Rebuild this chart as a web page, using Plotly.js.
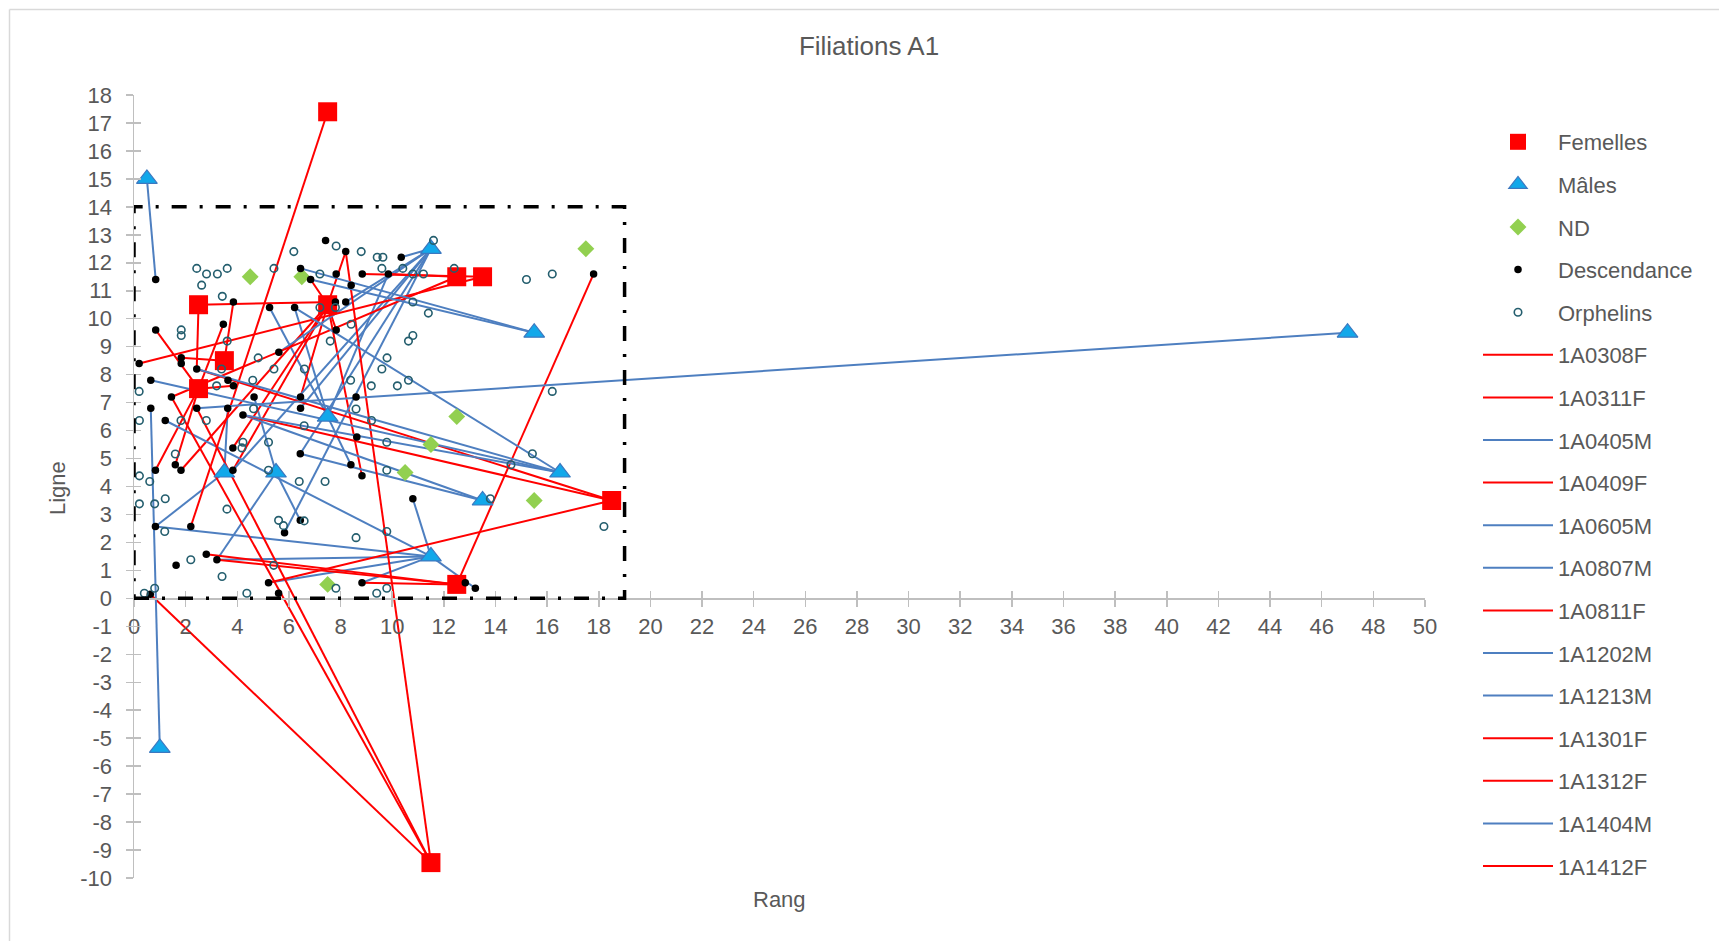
<!DOCTYPE html>
<html>
<head>
<meta charset="utf-8">
<script src="https://cdn.plot.ly/plotly-3.0.1.min.js"></script>
<style>html,body{margin:0;padding:0;background:#fff;}#chart{width:1719px;height:941px;}</style>
</head>
<body>
<div id="chart"></div>
<script>
// ---------- Parents (Femelles / Mâles), ND, descendants, orphans ----------
const femX = [7.5, 2.5, 7.5, 3.5, 2.5, 12.5, 13.5, 18.5, 12.5, 11.5];
const femY = [17.4, 10.5, 10.5, 8.5, 7.5, 11.5, 11.5, 3.5, 0.5, -9.45];

const maleX = [0.5, 1, 15.5, 16.5, 13.5, 3.5, 5.5, 7.5, 11.5, 11.5, 47];
const maleY = [15, -5.35, 9.5, 4.5, 3.5, 4.5, 4.5, 6.5, 1.5, 12.5, 9.5];

const ndX = [4.5, 6.5, 17.5, 12.5, 11.5, 10.5, 15.5, 7.5];
const ndY = [11.5, 11.5, 12.5, 6.5, 5.5, 4.5, 3.5, 0.5];

const descX = [0.84, 7.42, 8.2, 6.45, 6.84, 7.83, 8.84, 9.85, 8.41, 8.2, 7.8, 3.85, 5.25, 6.22, 7.83,
  3.46, 0.84, 5.61, 0.2, 1.83, 1.83, 2.43, 3.64, 3.85, 0.65, 1.45, 4.65, 6.45, 8.6, 0.65,
  2.43, 3.63, 6.45, 10.35, 4.22, 1.21, 8.63, 3.83, 6.44, 1.6, 1.82, 0.83, 3.83, 8.4, 8.83,
  0.83, 2.2, 6.44, 5.83, 2.8, 3.21, 1.63, 5.21, 8.83, 0.63, 5.6, 17.8, 10.8, 12.83, 13.22];
const descY = [11.4, 12.8, 12.4, 11.8, 11.4, 11.6, 11.6, 11.6, 11.2, 10.6, 10.6, 10.6, 10.4, 10.4, 9.6,
  9.8, 9.6, 8.8, 8.4, 8.6, 8.4, 8.2, 7.8, 7.6, 7.8, 7.2, 7.2, 7.2, 7.2, 6.8,
  6.8, 6.8, 6.8, 12.2, 6.56, 6.36, 5.77, 5.38, 5.17, 4.78, 4.58, 4.58, 4.58, 4.78, 4.38,
  2.57, 2.57, 2.79, 2.35, 1.58, 1.38, 1.18, 0.56, 0.56, 0.15, 0.18, 11.6, 3.56, 0.56, 0.36];

const orphX = [2.43, 2.81, 3.23, 3.61, 2.62, 3.42, 5.42, 6.19, 7.83, 8.8, 9.42, 9.64, 9.6, 7.2, 7.2,
  7.8, 8.41, 7.6, 1.83, 1.83, 3.61, 4.81, 5.42, 6.6, 3.39, 3.2, 4.6, 8.39, 9.19, 10.2,
  9.8, 9.6, 0.2, 11.6, 10.41, 10.8, 11.21, 10.8, 11.4, 12.4, 15.2, 16.2, 10.8, 10.63, 10.63,
  16.2, 4.63, 0.21, 1.82, 2.8, 6.59, 8.6, 9.2, 9.79, 5.21, 4.22, 4.18, 1.6, 5.21, 6.4,
  7.4, 9.79, 0.21, 0.61, 0.21, 0.8, 1.21, 3.6, 1.19, 5.6, 5.79, 6.59, 8.6, 9.79, 2.2,
  3.41, 5.41, 7.82, 9.79, 9.4, 0.4, 0.8, 4.37, 15.43, 14.6, 13.8, 18.2];
const orphY = [11.8, 11.6, 11.6, 11.8, 11.2, 10.8, 11.8, 12.4, 12.6, 12.4, 12.2, 12.2, 11.8, 11.6, 10.4,
  10.4, 9.8, 9.2, 9.6, 9.4, 9.2, 8.6, 8.2, 8.2, 8.2, 7.6, 7.8, 7.8, 7.6, 7.6,
  8.6, 8.2, 7.4, 12.8, 11.8, 11.6, 11.6, 10.6, 10.2, 11.8, 11.4, 11.6, 9.4, 9.2, 7.8,
  7.4, 6.78, 6.36, 6.36, 6.36, 6.17, 6.77, 6.36, 5.58, 5.58, 5.58, 5.38, 5.16, 4.58, 4.18,
  4.18, 4.58, 4.38, 4.18, 3.38, 3.38, 3.56, 3.19, 2.39, 2.79, 2.6, 2.77, 2.17, 2.39, 1.38,
  0.78, 1.18, 0.36, 0.36, 0.18, 0.18, 0.36, 0.18, 5.17, 4.78, 3.56, 2.57];

// ---------- Filiation lines: first value = parent, following = descendants ----------
const f0308X = [2.5, 0.84, 3.46, 0.83, 1.6, 3.85];
const f0308Y = [7.5, 9.6, 9.8, 4.58, 4.78, 7.6];
const f0311X = [2.5, 7.8, 2.43];
const f0311Y = [10.5, 10.6, 8.2];
const m0405X = [3.5, 3.63, 0.83];
const m0405Y = [4.5, 6.8, 2.57];
const f0409X = [3.5, 1.83, 3.85];
const f0409Y = [8.5, 8.6, 10.6];
const m0605X = [5.5, 3.21, 6.44, 4.65];
const m0605Y = [4.5, 1.38, 2.79, 7.2];
const m0807X = [7.5, 5.25, 6.22, 8.4, 9.85];
const m0807Y = [6.5, 10.4, 10.4, 4.78, 11.6];
const f0811X = [7.5, 8.2, 6.84, 8.83, 3.83, 3.83, 6.45, 7.83, 1.82];
const f0811Y = [10.5, 12.4, 11.4, 4.38, 4.58, 5.38, 7.2, 9.6, 4.58];
const m1202X = [11.5, 10.8, 13.22, 0.83, 3.21, 8.83, 5.21, 1.21];
const m1202Y = [1.5, 3.56, 0.36, 2.57, 1.38, 0.56, 0.56, 6.36];
const m1213X = [11.5, 5.83, 6.44, 6.45, 5.61, 3.83, 10.35, 8.2];
const m1213Y = [12.5, 2.35, 5.17, 6.8, 8.8, 4.58, 12.2, 10.6];
const f1301X = [12.5, 3.21, 8.83, 17.8, 2.8];
const f1301Y = [0.5, 1.38, 0.56, 11.6, 1.58];
const f1312X = [12.5, 1.45, 9.85];
const f1312Y = [11.5, 7.2, 11.6];
const m1404X = [13.5, 4.22, 6.44];
const m1404Y = [3.5, 6.56, 5.17];
const f1412X = [13.5, 0.2, 8.84];
const f1412Y = [11.5, 8.4, 11.6];

// parents outside the grid
const fTopX = [7.5, 2.2];            const fTopY = [17.4, 2.57];
const fRightX = [18.5, 2.43, 4.22, 5.21]; const fRightY = [3.5, 8.2, 6.56, 0.56];
const fLowX = [11.5, 0.63, 1.45, 2.43, 8.2]; const fLowY = [-9.45, 0.15, 7.2, 6.8, 12.4];
const mTopX = [0.5, 0.84];           const mTopY = [15, 11.4];
const mLowX = [1, 0.65];             const mLowY = [-5.35, 6.8];
const mFarX = [47, 2.43];            const mFarY = [9.5, 6.8];
const mR1X = [15.5, 6.45, 6.84];     const mR1Y = [9.5, 11.8, 11.4];
const mR2X = [16.5, 2.43, 4.22, 6.22, 0.65]; const mR2Y = [4.5, 8.2, 6.56, 10.4, 7.8];

const lineNames = ['1A0308F','1A0311F','1A0405M','1A0409F','1A0605M','1A0807M','1A0811F',
  '1A1202M','1A1213M','1A1301F','1A1312F','1A1404M','1A1412F'];
const lineData = [[f0308X,f0308Y],[f0311X,f0311Y],[m0405X,m0405Y],[f0409X,f0409Y],[m0605X,m0605Y],
  [m0807X,m0807Y],[f0811X,f0811Y],[m1202X,m1202Y],[m1213X,m1213Y],[f1301X,f1301Y],[f1312X,f1312Y],
  [m1404X,m1404Y],[f1412X,f1412Y]];
const extData = [[fTopX,fTopY,'F'],[fRightX,fRightY,'F'],[fLowX,fLowY,'F'],[mTopX,mTopY,'M'],
  [mLowX,mLowY,'M'],[mFarX,mFarY,'M'],[mR1X,mR1Y,'M'],[mR2X,mR2Y,'M']];

// axis ticks
const xTicks = [0, 2, 4, 6, 8, 10, 12, 14, 16, 18, 20, 22, 24, 26, 28, 30, 32, 34, 36, 38, 40, 42, 44, 46, 48, 50];
const yTicks = [-10, -9, -8, -7, -6, -5, -4, -3, -2, -1, 0, 1, 2, 3, 4, 5, 6, 7, 8, 9, 10, 11, 12, 13, 14, 15, 16, 17, 18];

const RED = '#FF0000', BLUE = '#4E7FC0', TXT = '#595959';
const FONT = 'Liberation Sans, Arial, sans-serif';

function star(xs, ys) {
  const x = [], y = [];
  for (let i = 1; i < xs.length; i++) {
    x.push(xs[0], xs[i], null);
    y.push(ys[0], ys[i], null);
  }
  return {x, y};
}

const traces = [];
lineNames.forEach((nm, i) => {
  const s = star(lineData[i][0], lineData[i][1]);
  const col = nm.endsWith('F') ? RED : BLUE;
  traces.push({type:'scatter', mode:'lines', name:nm, x:s.x, y:s.y, connectgaps:false,
    line:{color:col, width:2}, legendgroup:nm, legendrank:10+i, hoverinfo:'skip'});
});
extData.forEach((d, i) => {
  const s = star(d[0], d[1]);
  traces.push({type:'scatter', mode:'lines', x:s.x, y:s.y, connectgaps:false, showlegend:false,
    line:{color: d[2]==='F' ? RED : BLUE, width:2}, hoverinfo:'skip'});
});
traces.push({type:'scatter', mode:'markers', name:'Femelles', x:femX, y:femY, legendgroup:'g1', legendrank:1,
  marker:{symbol:'square', size:19, color:RED}});
traces.push({type:'scatter', mode:'markers', name:'Mâles', x:maleX, y:maleY, legendgroup:'g2', legendrank:2,
  marker:{symbol:'triangle-up', size:18, color:'#12A8EA', line:{color:'#3C78C0', width:1.2}}});
traces.push({type:'scatter', mode:'markers', name:'ND', x:ndX, y:ndY, legendgroup:'g3', legendrank:3,
  marker:{symbol:'diamond', size:13, color:'#92D050'}});
traces.push({type:'scatter', mode:'markers', name:'Descendance', x:descX, y:descY, legendgroup:'g4', legendrank:4,
  marker:{symbol:'circle', size:7.5, color:'#000000'}});
traces.push({type:'scatter', mode:'markers', name:'Orphelins', x:orphX, y:orphY, legendgroup:'g5', legendrank:5,
  marker:{symbol:'circle-open', size:7.5, color:'#245E6E', line:{width:1.6}}});
// empty trace so the overlay axes draw the crossing half of the tick marks
traces.push({type:'scatter', mode:'markers', x:[], y:[], xaxis:'x2', yaxis:'y2', showlegend:false, hoverinfo:'skip'});

const L = 134, R = 294, T = 95, B = 63;
const W = 1719, H = 941;
const pw = W - L - R, ph = H - T - B;
const px = v => (v - L) / pw;
const py = v => (H - B - v) / ph;
const yMin = -10, yMax = 18;
const xAxisPos = (0 - yMin) / (yMax - yMin);

const axisCommon = {showgrid:false, zeroline:false, showline:true, linecolor:'#BFBFBF', linewidth:1.5,
  ticks:'outside', ticklen:7, tickwidth:1.5, tickcolor:'#BFBFBF', tickmode:'array',
  tickfont:{family:FONT, size:22, color:TXT}};

const layout = {
  width:W, height:H, margin:{l:L, r:R, t:T, b:B},
  paper_bgcolor:'#FFFFFF', plot_bgcolor:'#FFFFFF',
  font:{family:FONT, color:TXT, size:22},
  showlegend:true, hovermode:false,
  title:{text:'Filiations A1', font:{family:FONT, size:26, color:TXT}, xref:'container', yref:'container',
    x:869/W, y:1-46/H, xanchor:'center', yanchor:'middle'},
  xaxis:Object.assign({}, axisCommon, {range:[0,50], tickvals:xTicks, ticktext:xTicks.map(String),
    anchor:'free', position:xAxisPos, ticklabelstandoff:1}),
  yaxis:Object.assign({}, axisCommon, {range:[yMin,yMax], tickvals:yTicks, ticktext:yTicks.map(String),
    ticklabelstandoff:9}),
  xaxis2:{overlaying:'x', range:[0,50], tickmode:'array', tickvals:xTicks, anchor:'free', position:xAxisPos,
    showgrid:false, zeroline:false, showline:false, showticklabels:false, ticks:'inside', ticklen:7, tickwidth:1.5,
    tickcolor:'#BFBFBF'},
  yaxis2:{overlaying:'y', range:[yMin,yMax], tickmode:'array', tickvals:yTicks, anchor:'x2', showgrid:false,
    zeroline:false, showline:false, showticklabels:false, ticks:'inside', ticklen:7, tickwidth:1.5, tickcolor:'#BFBFBF'},
  legend:{x:px(1478), y:py(121), xanchor:'left', yanchor:'top', traceorder:'grouped', tracegroupgap:11,
    itemwidth:70, font:{family:FONT, size:22, color:TXT}, bgcolor:'rgba(0,0,0,0)'},
  shapes:[
    {type:'rect', xref:'x', yref:'y', x0:0, y0:0, x1:19, y1:14, layer:'above',
      line:{color:'#000000', width:3.5, dash:'15px,13px,3px,13px'}},
    {type:'line', xref:'paper', yref:'paper', x0:px(9.5), x1:px(9.5), y0:py(9.5), y1:py(960), line:{color:'#D9D9D9', width:1.5}},
    {type:'line', xref:'paper', yref:'paper', x0:px(9.5), x1:px(1730), y0:py(9.5), y1:py(9.5), line:{color:'#D9D9D9', width:1.5}}
  ],
  annotations:[
    {text:'Rang', xref:'paper', yref:'paper', x:0.5, y:py(899), xanchor:'center', yanchor:'middle', showarrow:false,
      font:{family:FONT, size:22, color:TXT}},
    {text:'Ligne', xref:'paper', yref:'paper', x:px(57), y:py(488), xanchor:'center', yanchor:'middle', showarrow:false,
      textangle:-90, font:{family:FONT, size:22, color:TXT}}
  ]
};

Plotly.newPlot('chart', traces, layout, {displayModeBar:false, staticPlot:true});
</script>
</body>
</html>
